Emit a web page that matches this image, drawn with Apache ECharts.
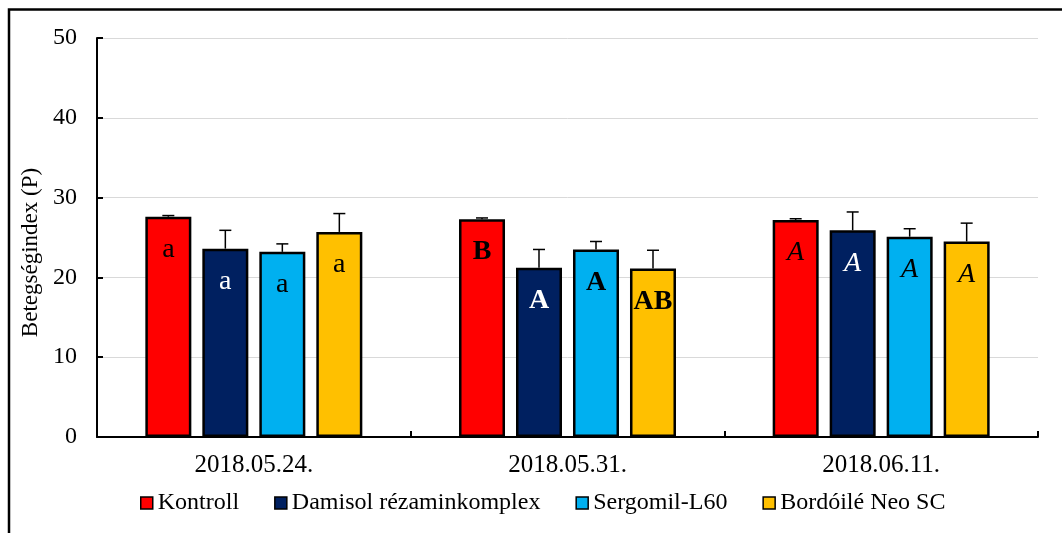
<!DOCTYPE html>
<html>
<head>
<meta charset="utf-8">
<script src="https://cdn.jsdelivr.net/npm/echarts@6/dist/echarts.min.js"></script>
<style>
html,body{margin:0;padding:0;background:#fff;}
#chart{width:1062px;height:533px;}
</style>
</head>
<body>
<div id="chart"></div>
<script>
const categories = ['2018.05.24.', '2018.05.31.', '2018.06.11.'];
const seriesNames = ['Kontroll', 'Damisol rézaminkomplex', 'Sergomil-L60', 'Bordóilé Neo SC'];
const kontroll = [27.6, 27.3, 27.2];
const damisol = [23.6, 21.2, 25.9];
const sergomil = [23.2, 23.5, 25.1];
const bordo = [25.7, 21.1, 24.5];
const kontrollSd = [0.15, 0.15, 0.15];
const damisolSd = [2.3, 2.3, 2.3];
const sergomilSd = [1.0, 1.0, 1.0];
const bordoSd = [2.3, 2.3, 2.3];
const letters = [
  ['a', 'a', 'a', 'a'],
  ['B', 'A', 'A', 'AB'],
  ['A', 'A', 'A', 'A']
];
const letterStyles = ['normal', 'bold', 'italic'];
const yTicks = [0, 10, 20, 30, 40, 50];

const values = [kontroll, damisol, sergomil, bordo];
const sds = [kontrollSd, damisolSd, sergomilSd, bordoSd];
const colors = ['#FF0000', '#002060', '#00B0F0', '#FFC000'];
const labelColors = ['#000', '#fff', '#000', '#000'];
const FONT = '"Liberation Serif", "Times New Roman", serif';
const BAR_W = 46, BAR_GAP = 11;

const series = [];
values.forEach((vals, si) => {
  series.push({
    name: seriesNames[si],
    type: 'bar',
    barWidth: BAR_W,
    barGap: (BAR_GAP / BAR_W * 100).toFixed(1) + '%',
    itemStyle: { color: colors[si], borderColor: '#000', borderWidth: 2.5 },
    data: vals.map((v, ci) => ({
      value: v,
      label: {
        show: true,
        position: 'insideTop',
        distance: 19,
        formatter: letters[ci][si],
        color: labelColors[si],
        fontFamily: FONT,
        fontSize: 28,
        lineHeight: 28,
        fontWeight: letterStyles[ci] === 'bold' ? 'bold' : 'normal',
        fontStyle: letterStyles[ci] === 'italic' ? 'italic' : 'normal'
      }
    })),
    z: 2
  });
});
values.forEach((vals, si) => {
  series.push({
    type: 'custom',
    name: seriesNames[si] + ' err',
    silent: true,
    z: 3,
    data: vals.map((v, ci) => [ci, v, v + sds[si][ci]]),
    renderItem: function (params, api) {
      const ci = api.value(0);
      const base = api.coord([ci, api.value(1)]);
      const top = api.coord([ci, api.value(2)]);
      const off = (si - 1.5) * (BAR_W + BAR_GAP);
      const x = base[0] + off;
      const style = { stroke: '#000', lineWidth: 1.5 };
      return {
        type: 'group',
        children: [
          { type: 'line', shape: { x1: x, y1: base[1], x2: x, y2: top[1] }, style: style },
          { type: 'line', shape: { x1: x - 6, y1: top[1], x2: x + 6, y2: top[1] }, style: style }
        ]
      };
    }
  });
});

const chart = echarts.init(document.getElementById('chart'));
chart.setOption({
  backgroundColor: '#fff',
  animation: false,
  textStyle: { fontFamily: FONT },
  graphic: [{
    type: 'rect',
    shape: { x: 9, y: 9.5, width: 1200, height: 700 },
    style: { fill: 'none', stroke: '#000', lineWidth: 2.5 },
    silent: true
  }],
  grid: { left: 97, right: 24, top: 38, bottom: 96 },
  legend: {
    data: seriesNames,
    left: 140,
    top: 491,
    padding: 0,
    icon: 'rect',
    itemWidth: 12,
    itemHeight: 12,
    itemGap: 35,
    textStyle: { fontFamily: FONT, fontSize: 24, color: '#000' },
    itemStyle: { borderColor: '#000', borderWidth: 1.5 }
  },
  xAxis: {
    type: 'category',
    data: categories,
    axisLine: { lineStyle: { color: '#000', width: 2 } },
    axisTick: { show: true, inside: true, length: 6, lineStyle: { color: '#000', width: 2 } },
    axisLabel: { color: '#000', fontFamily: FONT, fontSize: 25, margin: 16 },
    splitLine: { show: false }
  },
  yAxis: {
    type: 'value',
    min: yTicks[0],
    max: yTicks[yTicks.length - 1],
    interval: yTicks[1] - yTicks[0],
    name: 'Betegségindex (P)',
    nameLocation: 'middle',
    nameGap: 48,
    nameTextStyle: { color: '#000', fontFamily: FONT, fontSize: 23, padding: [0, 30, 0, 0] },
    axisLine: { show: true, lineStyle: { color: '#000', width: 2 } },
    axisTick: { show: true, inside: true, length: 6, lineStyle: { color: '#000', width: 2 } },
    axisLabel: { color: '#000', fontFamily: FONT, fontSize: 24, margin: 20 },
    splitLine: { show: true, lineStyle: { color: '#D9D9D9', width: 1 } }
  },
  series: series
});
</script>
</body>
</html>
